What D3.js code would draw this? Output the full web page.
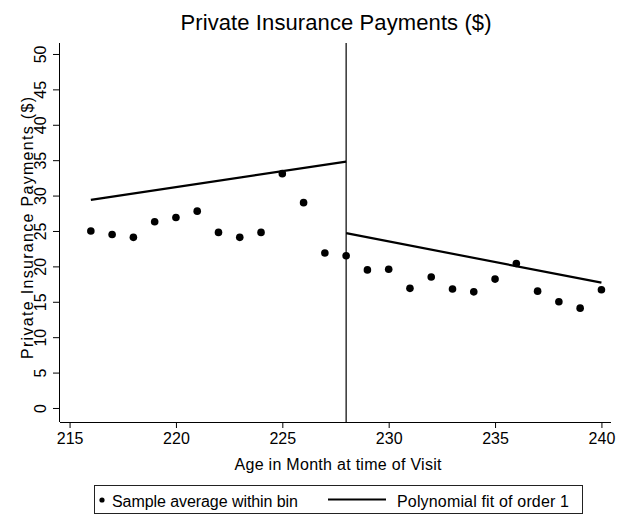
<!DOCTYPE html>
<html>
<head>
<meta charset="utf-8">
<script src="https://cdn.jsdelivr.net/npm/d3@7"></script>
<style>
  html, body { margin: 0; padding: 0; background: #fff; }
  svg { display: block; }
  text { font-family: "Liberation Sans", Arial, sans-serif; fill: #000; }
</style>
</head>
<body>
<svg id="chart" width="622" height="521"></svg>
<script>
// ---- data ----
const ages = [216,217,218,219,220,221,222,223,224,225,226,227,228,229,230,231,232,233,234,235,236,237,238,239,240];
const payments = [25.0,24.5,24.1,26.3,26.9,27.8,24.8,24.1,24.8,33.1,29.0,21.9,21.5,19.5,19.6,16.9,18.5,16.8,16.4,18.2,20.4,16.5,15.0,14.1,16.7];
const fitLeft = [[216, 29.4], [228, 34.8]];
const fitRight = [[228, 24.7], [240, 17.7]];
const cutoff = 228;
const xTicks = [215,220,225,230,235,240];
const yTicks = [0,5,10,15,20,25,30,35,40,45,50];
const titleText = "Private Insurance Payments ($)";
const xTitle = "Age in Month at time of Visit";
const yTitle = "Private Insurance Payments ($)";
const legendLabels = ["Sample average within bin", "Polynomial fit of order 1"];

// ---- layout ----
const svg = d3.select("#chart");
const pLeft = 60, pRight = 611, pTop = 43, pBottom = 422;
const x = d3.scaleLinear().domain([214.55, 240.45]).range([pLeft, pRight]);
const y = d3.scaleLinear().domain([-1.98, 51.55]).range([pBottom, pTop]);

// title
svg.append("text").attr("x", 336).attr("y", 30).attr("text-anchor", "middle")
  .attr("font-size", 22).attr("textLength", 311).attr("lengthAdjust", "spacing")
  .text(titleText);

// axes
const xAxis = d3.axisBottom(x).tickValues(xTicks).tickSize(6).tickPadding(3).tickSizeOuter(0);
const gx = svg.append("g").attr("transform", `translate(0,${pBottom})`).call(xAxis);
gx.select(".domain").attr("d", `M${pLeft},0.5H${pRight}`).attr("stroke", "#000");
gx.selectAll(".tick line").attr("stroke", "#000");
gx.selectAll(".tick text").attr("font-size", 16).attr("font-family", "Liberation Sans, Arial, sans-serif")
  .attr("y", 11).attr("dy", "0.71em");

const yAxis = d3.axisLeft(y).tickValues(yTicks).tickSize(7).tickSizeOuter(0);
const gy = svg.append("g").attr("transform", `translate(${pLeft},0)`).call(yAxis);
gy.select(".domain").attr("d", `M-0.5,${pTop}V${pBottom}`).attr("stroke", "#000");
gy.selectAll(".tick line").attr("stroke", "#000");
gy.selectAll(".tick text")
  .attr("font-size", 16).attr("font-family", "Liberation Sans, Arial, sans-serif")
  .attr("x", null).attr("dy", null)
  .attr("text-anchor", "middle")
  .attr("transform", "translate(-14,0) rotate(-90)");

// axis titles
svg.append("text").attr("x", 338).attr("y", 470).attr("text-anchor", "middle")
  .attr("font-size", 16).attr("textLength", 207).attr("lengthAdjust", "spacing")
  .text(xTitle);
svg.append("text").attr("transform", "translate(33,228) rotate(-90)").attr("text-anchor", "middle")
  .attr("font-size", 16).attr("textLength", 262).attr("lengthAdjust", "spacing")
  .text(yTitle);

// cutoff line
svg.append("line").attr("x1", x(cutoff)).attr("x2", x(cutoff))
  .attr("y1", pTop).attr("y2", pBottom).attr("stroke", "#000").attr("stroke-width", 1.2);

// fit lines
const line = d3.line().x(d => x(d[0])).y(d => y(d[1]));
[fitLeft, fitRight].forEach(seg => {
  svg.append("path").attr("d", line(seg)).attr("fill", "none")
    .attr("stroke", "#000").attr("stroke-width", 2.2);
});

// points
svg.append("g").selectAll("circle").data(ages).join("circle")
  .attr("cx", (d) => x(d)).attr("cy", (d, i) => y(payments[i]))
  .attr("r", 3.8).attr("fill", "#000");

// legend
const lg = svg.append("g");
lg.append("rect").attr("x", 94.5).attr("y", 485.5).attr("width", 488).attr("height", 28)
  .attr("fill", "none").attr("stroke", "#222").attr("stroke-width", 1);
lg.append("circle").attr("cx", 102).attr("cy", 500).attr("r", 2.6).attr("fill", "#000");
lg.append("text").attr("x", 112).attr("y", 507).attr("font-size", 16)
  .attr("textLength", 186).attr("lengthAdjust", "spacing").text(legendLabels[0]);
lg.append("line").attr("x1", 328).attr("x2", 386).attr("y1", 499.5).attr("y2", 499.5)
  .attr("stroke", "#000").attr("stroke-width", 2.2);
lg.append("text").attr("x", 397).attr("y", 507).attr("font-size", 16)
  .attr("textLength", 172).attr("lengthAdjust", "spacing").text(legendLabels[1]);
</script>
</body>
</html>
